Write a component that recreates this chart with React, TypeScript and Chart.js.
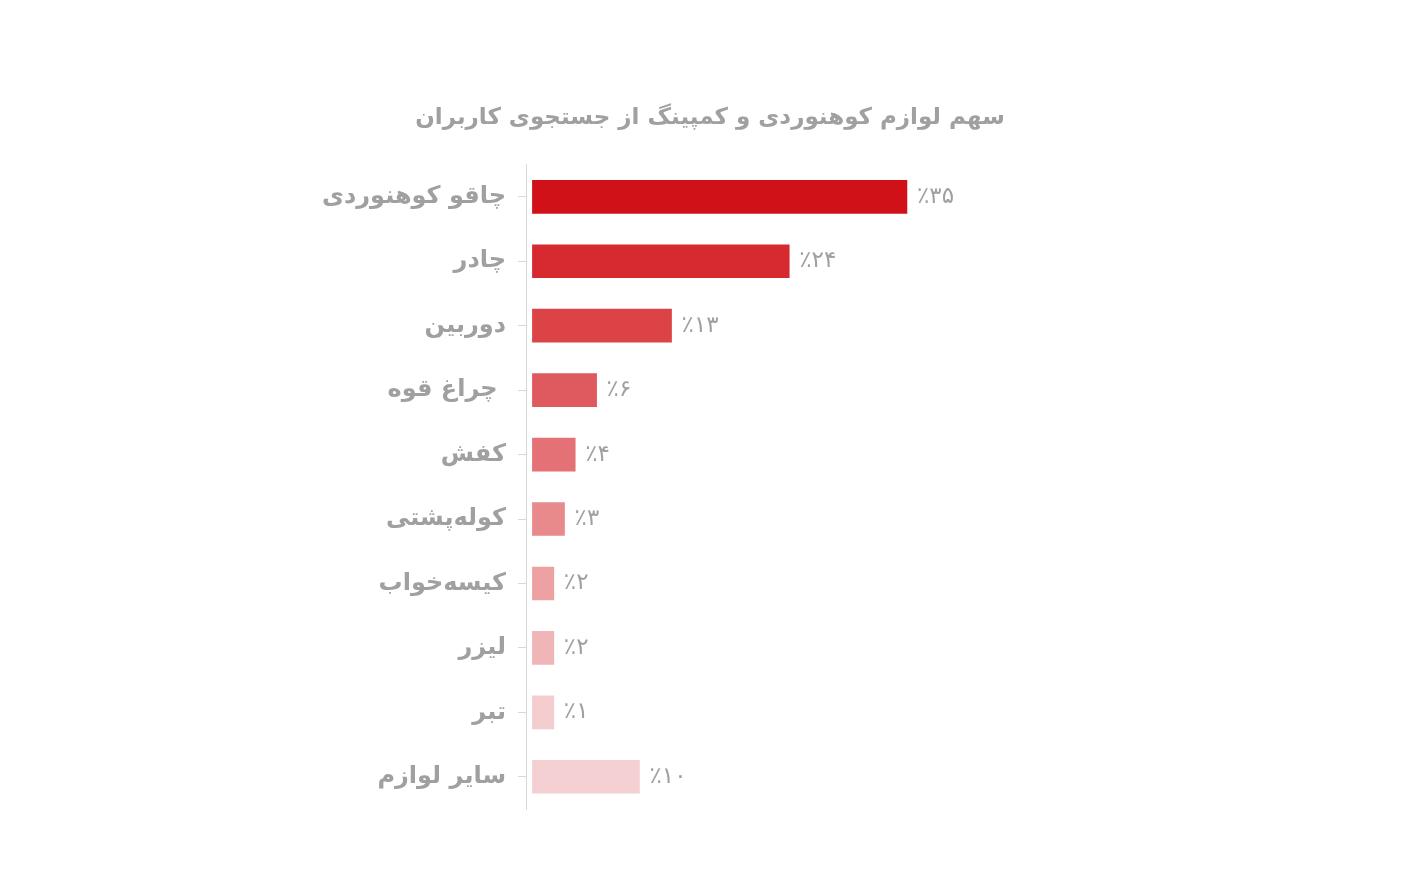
import React, { useEffect, useRef } from "react";
import { Chart, registerables } from "chart.js";

Chart.register(...registerables);

const TITLE = "سهم لوازم کوهنوردی و کمپینگ از جستجوی کاربران";
const categories = [
  "چاقو کوهنوردی",
  "چادر",
  "دوربین",
  "چراغ قوه ",
  "کفش",
  "کوله‌پشتی",
  "کیسه‌خواب",
  "لیزر",
  "تبر",
  "سایر لوازم",
];
const barValues = [35, 24, 13, 6, 4, 3, 2, 2, 2, 10];
const valueLabels = ["٪۳۵", "٪۲۴", "٪۱۳", "٪۶", "٪۴", "٪۳", "٪۲", "٪۲", "٪۱", "٪۱۰"];
const barColors = [
  "#D01218",
  "#D62A30",
  "#DB4347",
  "#DF5A5E",
  "#E37175",
  "#E88A8C",
  "#EDA1A3",
  "#F0B5B6",
  "#F4CDCF",
  "#F5D0D2",
];

const FONT = "'DejaVu Sans', 'Noto Sans', sans-serif";
const GRAY = "#a0a0a0";

const valueLabelPlugin = {
  id: "valueLabels",
  afterDatasetsDraw(chart: any) {
    const ctx = chart.ctx;
    const meta = chart.getDatasetMeta(0);
    ctx.save();
    ctx.font = `normal 23px ${FONT}`;
    ctx.fillStyle = GRAY;
    ctx.textAlign = "left";
    ctx.textBaseline = "middle";
    meta.data.forEach((bar: any, i: number) => {
      ctx.fillText(valueLabels[i], bar.x + 10, bar.y);
    });
    ctx.restore();
  },
};

export default function App() {
  const ref = useRef<HTMLCanvasElement | null>(null);
  useEffect(() => {
    if (!ref.current) return;
    const chart = new Chart(ref.current, {
      type: "bar",
      data: {
        labels: categories,
        datasets: [
          {
            data: barValues,
            backgroundColor: barColors,
            borderWidth: 0,
            barThickness: 33,
          },
        ],
      },
      options: {
        indexAxis: "y",
        animation: false,
        responsive: true,
        maintainAspectRatio: false,
        layout: { padding: { top: 93, bottom: 64, left: 0, right: 0 } },
        plugins: {
          legend: { display: false },
          tooltip: { enabled: false },
          title: {
            display: true,
            text: TITLE,
            color: GRAY,
            font: { family: FONT, size: 23, weight: "bold", lineHeight: 1.2 },
            padding: { top: 3, bottom: 33 },
          },
        },
        scales: {
          x: {
            display: false,
            min: -0.6,
            max: 82.2,
          },
          y: {
            afterFit(scale: any) {
              scale.width = 518;
            },
            grid: {
              drawOnChartArea: false,
              drawTicks: true,
              tickLength: 8,
              tickColor: "#d8d8d8",
              offset: false,
            },
            border: { display: true, color: "#d8d8d8", width: 1 },
            ticks: {
              color: GRAY,
              padding: 12,
              font: { family: FONT, size: 24, weight: "bold" },
            },
          },
        },
      },
      plugins: [valueLabelPlugin],
    });
    return () => chart.destroy();
  }, []);
  return (
    <div style={{ width: 1404, height: 865, position: "relative" }}>
      <canvas ref={ref} />
    </div>
  );
}
